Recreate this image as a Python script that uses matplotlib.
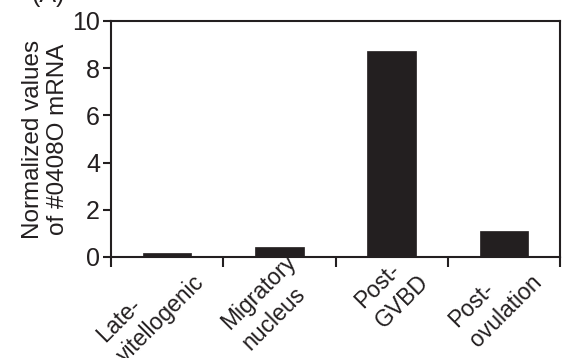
import numpy as np
import matplotlib.pyplot as plt
from matplotlib.transforms import ScaledTranslation

plt.rcParams['font.family'] = ['Liberation Sans', 'DejaVu Sans']

stages = ["Late-\nvitellogenic", "Migratory\nnucleus", "Post-\nGVBD", "Post-\novulation"]
values = [0.16, 0.41, 8.74, 1.11]
yticks = [0, 2, 4, 6, 8, 10]

fig = plt.figure(figsize=(5.7, 3.58), dpi=100)
ax = fig.add_axes([111/570, 1 - 257/358, (560-111)/570, (257-21)/358])

x = np.arange(len(values)) + 0.5
ax.bar(x, values, width=0.43, color="#231f20", edgecolor="#231f20", linewidth=0.5)

ax.set_xlim(0, len(values))
ax.set_ylim(0, 10)
ax.set_yticks(yticks)
ax.set_xticks(np.arange(len(values) + 1))
ax.set_xticklabels([])
ax.tick_params(axis="both", which="major", length=6, width=1.5, color="#231f20",
               labelsize=18, labelcolor="#231f20", pad=2)
ax.tick_params(axis="x", which="major", direction="out", length=7)
for s in ax.spines.values():
    s.set_linewidth(1.5)
    s.set_color("#231f20")

# rotated category labels, nudged to sit like the original
shift = ScaledTranslation(0.05, 0.07, fig.dpi_scale_trans)
for xi, lab in zip(x, stages):
    ax.text(xi, 0, lab, transform=ax.get_xaxis_transform() + shift,
            rotation=45, ha="right", va="top", rotation_mode="anchor",
            multialignment="left", linespacing=1.35,
            fontsize=16.5, color="#231f20")

ax.set_ylabel("Normalized values\nof #0408O mRNA", fontsize=17.5, color="#231f20",
              linespacing=1.2, labelpad=2)

fig.text(0.085, 1.015, "(A)", fontsize=18, ha="center", va="center", color="#231f20")

fig.savefig("out.png", dpi=100)
